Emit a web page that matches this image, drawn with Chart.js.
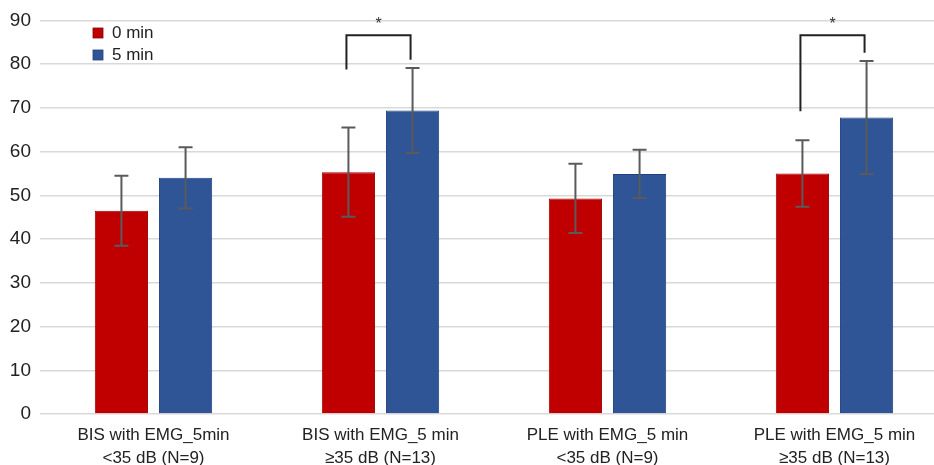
<!DOCTYPE html>
<html>
<head>
<meta charset="utf-8">
<script src="https://cdn.jsdelivr.net/npm/chart.js"></script>
<style>
  html, body { margin: 0; padding: 0; background: #fff; overflow: hidden; }
  #wrap { width: 934px; height: 465px; overflow: hidden; }
  #box { width: 948px; height: 465px; }
</style>
</head>
<body>
<div id="wrap"><div id="box"><canvas id="chart"></canvas></div></div>
<script>
// categories (two-line labels)
const categories = [
  ['BIS with EMG_5min', '<35 dB (N=9)'],
  ['BIS with EMG_5 min', '\u226535 dB (N=13)'],
  ['PLE with EMG_5 min', '<35 dB (N=9)'],
  ['PLE with EMG_5 min', '\u226535 dB (N=13)']
];
const seriesNames = ['0 min', '5 min'];
const mean0 = [46.5, 55.3, 49.3, 55.0];
const mean5 = [54.0, 69.4, 54.9, 67.8];
const sd0 = [8.0, 10.2, 7.9, 7.6];
const sd5 = [7.0, 9.7, 5.5, 12.9];
// significance brackets: category index, bracket top, left leg end, right leg end
const sigCats = [1, 3];
const sigTop = [86.6, 86.6];
const sigLeft = [78.8, 69.2];
const sigRight = [81.0, 82.6];
const yTicks = [0, 10, 20, 30, 40, 50, 60, 70, 80, 90];

const RED = '#c00000';
const BLUE = '#2f5597';

const errorBars = {
  id: 'errorBars',
  afterDatasetsDraw(chart) {
    const ctx = chart.ctx;
    const y = chart.scales.y;
    const sds = [sd0, sd5];
    ctx.save();
    ctx.strokeStyle = '#5a5a5a';
    ctx.lineWidth = 2;
    chart.data.datasets.forEach((ds, i) => {
      chart.getDatasetMeta(i).data.forEach((bar, j) => {
        const v = ds.data[j], s = sds[i][j];
        const top = y.getPixelForValue(v + s);
        const bot = y.getPixelForValue(v - s);
        ctx.beginPath();
        ctx.moveTo(bar.x, top); ctx.lineTo(bar.x, bot);
        ctx.moveTo(bar.x - 7, top); ctx.lineTo(bar.x + 7, top);
        ctx.moveTo(bar.x - 7, bot); ctx.lineTo(bar.x + 7, bot);
        ctx.stroke();
      });
    });
    // significance brackets
    ctx.strokeStyle = '#222';
    ctx.lineWidth = 2;
    sigCats.forEach((c, k) => {
      const x1 = chart.getDatasetMeta(0).data[c].x - 2;
      const x2 = chart.getDatasetMeta(1).data[c].x - 2;
      const yt = y.getPixelForValue(sigTop[k]);
      ctx.beginPath();
      ctx.moveTo(x1, y.getPixelForValue(sigLeft[k]));
      ctx.lineTo(x1, yt);
      ctx.lineTo(x2, yt);
      ctx.lineTo(x2, y.getPixelForValue(sigRight[k]));
      ctx.stroke();
      ctx.fillStyle = '#333';
      ctx.font = '16px "Liberation Sans", Arial, sans-serif';
      ctx.textAlign = 'center';
      ctx.textBaseline = 'middle';
      ctx.fillText('*', (x1 + x2) / 2, y.getPixelForValue(89.4) + 2);
    });
    // legend inside plot
    const colors = [RED, BLUE];
    ctx.font = '17px "Liberation Sans", Arial, sans-serif';
    ctx.textAlign = 'left';
    ctx.textBaseline = 'middle';
    seriesNames.forEach((n, i) => {
      const ly = 33 + i * 22;
      ctx.fillStyle = colors[i];
      ctx.fillRect(93, ly - 5, 10, 10);
      ctx.strokeStyle = i ? '#1f3f7f' : '#8a0000';
      ctx.lineWidth = 0.8;
      ctx.strokeRect(93, ly - 5, 10, 10);
      ctx.fillStyle = '#222';
      ctx.fillText(n, 112, ly);
    });
    ctx.restore();
  }
};

new Chart(document.getElementById('chart'), {
  type: 'bar',
  data: {
    labels: categories,
    datasets: [
      { label: seriesNames[0], data: mean0, backgroundColor: RED, borderColor: '#a00000', borderWidth: 1 },
      { label: seriesNames[1], data: mean5, backgroundColor: BLUE, borderColor: '#1f3f7f', borderWidth: 1 }
    ]
  },
  options: {
    animation: false,
    responsive: true,
    maintainAspectRatio: false,
    categoryPercentage: 0.565,
    barPercentage: 0.83,
    layout: { padding: { top: 12, right: 0, left: 0, bottom: 0 } },
    plugins: { legend: { display: false }, tooltip: { enabled: false } },
    scales: {
      x: {
        grid: { display: false },
        border: { display: false },
        ticks: {
          color: '#222',
          padding: 1,
          font: { family: '"Liberation Sans", Arial, sans-serif', size: 17, lineHeight: 1.4 },
          maxRotation: 0
        },
        afterFit(s) { s.height = 51; }
      },
      y: {
        min: 0, max: 90,
        afterBuildTicks(s) { s.ticks = yTicks.map(v => ({ value: v })); },
        grid: { color: '#d9d9d9', lineWidth: 1.5, drawTicks: false },
        border: { display: false },
        ticks: {
          color: '#222',
          padding: 9,
          font: { family: '"Liberation Sans", Arial, sans-serif', size: 19 }
        },
        afterFit(s) { s.width = 40; }
      }
    }
  },
  plugins: [errorBars]
});
</script>
</body>
</html>
